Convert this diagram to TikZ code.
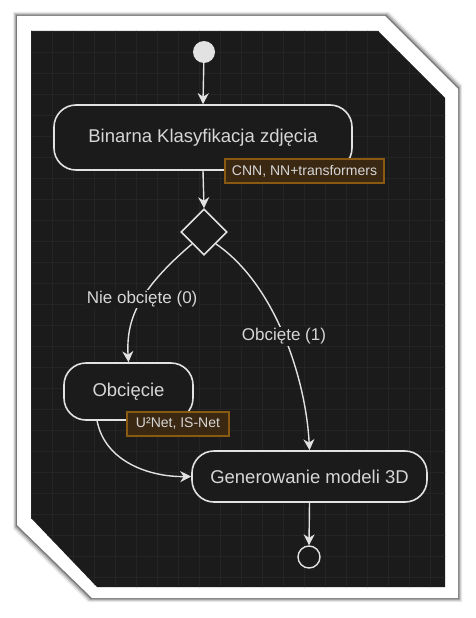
\documentclass[tikz,border=0pt]{standalone}
\usepackage{fontspec}
\setmainfont{Liberation Sans}
\usetikzlibrary{shapes.geometric,arrows.meta}
\definecolor{bgdark}{HTML}{1B1B1B}
\definecolor{gridc}{HTML}{242424}
\definecolor{linec}{HTML}{E2E2E2}
\definecolor{textc}{HTML}{D6D6D6}
\definecolor{notefill}{HTML}{3B2813}
\definecolor{notedraw}{HTML}{8A5A12}
\tikzset{
  act/.style={draw=linec, line width=1.6pt, fill=bgdark, rounded corners=22pt, text=textc, font=\fontsize{18.5}{21}\selectfont, inner sep=0pt},
  notebox/.style={draw=notedraw, line width=1.2pt, fill=notefill, text=textc, font=\fontsize{14}{16}\selectfont, inner sep=0pt},
  conn/.style={draw=linec, line width=1.4pt, -{Stealth[length=11pt,width=11pt,inset=3.5pt]}},
  elabel/.style={fill=bgdark, text=textc, font=\fontsize{17}{19}\selectfont, inner sep=1.5pt}
}
\begin{document}
\begin{tikzpicture}[x=1pt,y=-1pt]
\useasboundingbox (0,0) rectangle (476,618);
\fill[white] (0,0) rectangle (476,618);
% paper shadow
\foreach \o/\op in {4/0.08,3/0.12,2/0.18,1/0.28}{
  \fill[black,opacity=\op] (17-\o,16-\o) -- (385+\o,16-\o) -- (458+\o,89-\o) -- (458+\o,598+\o) -- (92-\o,598+\o) -- (17-\o,525+\o) -- cycle;
}
\fill[white] (17,16) -- (385,16) -- (458,89) -- (458,598) -- (92,598) -- (17,525) -- cycle;
% dark panel
\begin{scope}
\clip (31,31) -- (378,31) -- (445,98) -- (445,587) -- (97,587) -- (31,518) -- cycle;
\fill[bgdark] (20,20) rectangle (460,600);
\foreach \x in {31,52,...,450}{\draw[gridc,line width=0.5pt] (\x,20) -- (\x,600);}
\foreach \y in {31,52,...,600}{\draw[gridc,line width=0.5pt] (20,\y) -- (460,\y);}
\end{scope}
% nodes
\node[circle, fill=linec, minimum size=22pt, inner sep=0pt] (start) at (204,52) {};
\node[act, minimum width=298pt, minimum height=65pt] (klas) at (203,137.5) {Binarna Klasyfikacja zdjęcia};
\node[diamond, draw=linec, line width=1.6pt, fill=bgdark, minimum size=46pt, inner sep=0pt] (dec) at (204,232) {};
\node[act, minimum width=129pt, minimum height=57pt] (obc) at (128.5,391.5) {Obcięcie};
\node[act, minimum width=235pt, minimum height=51pt] (gen) at (309.5,476.5) {Generowanie modeli 3D};
\node[circle, draw=linec, line width=1.4pt, fill=bgdark, minimum size=22pt, inner sep=0pt] (end) at (309,557) {};
% connectors
\draw[conn] (start) -- (klas.north);
\draw[conn] (klas.south) -- (dec.north);
\draw[conn] (dec.south west) .. controls (138,290) and (126,320) .. (obc.north)
  node[elabel, pos=0.45] {Nie obcięte (0)};
\draw[conn] (dec.south east) .. controls (276,285) and (306,380) .. (gen.north)
  node[elabel, pos=0.5] {Obcięte (1)};
\draw[conn] (obc.223) .. controls (105,462) and (150,477) .. (gen.west);
\draw[conn] (gen.south) -- (end.north);
% notes
\node[notebox, minimum width=159pt, minimum height=24pt] (n1) at (304.5,171) {CNN, NN+transformers};
\node[notebox, minimum width=102pt, minimum height=24pt] (n2) at (178,424) {U²Net, IS-Net};
\end{tikzpicture}
\end{document}
